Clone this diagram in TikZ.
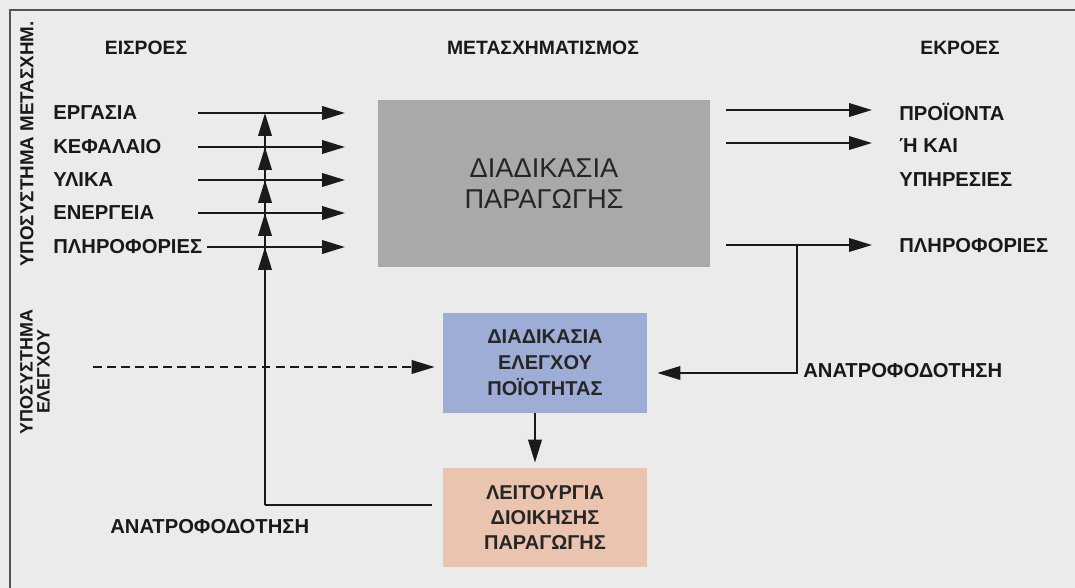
\documentclass[tikz,border=0pt]{standalone}
\usepackage{fontspec}
\setmainfont{Liberation Sans}
\newcommand\etich{\bfseries}
\usetikzlibrary{arrows.meta, calc, positioning}
\definecolor{fondo}{HTML}{EBEBEB}
\definecolor{lprod}{HTML}{A9A9A9}
\definecolor{lqual}{HTML}{9EADD5}
\definecolor{ldir}{HTML}{EBC4B0}
\definecolor{linea}{HTML}{1A1A1A}
\definecolor{cornice}{HTML}{555555}
\tikzset{
  % scatola di processo
  proc/.style={inner sep=0pt, align=center, text=black!85},
  box prod/.style={proc, fill=lprod, minimum width=6.64cm, minimum height=3.34cm,
    font=\fontsize{15.5}{17.5}\selectfont},
  box qual/.style={proc, fill=lqual, minimum width=4.08cm, minimum height=2cm,
    font=\etich\fontsize{11.4}{14.8}\selectfont},
  box dir/.style={proc, fill=ldir, minimum width=4.08cm, minimum height=1.98cm,
    font=\etich\fontsize{11.4}{14.2}\selectfont},
  % etichette
  lbl/.style={inner sep=0pt, text=black!90, font=\etich\fontsize{11.5}{13}\selectfont},
  head/.style={inner sep=0pt, text=black!90, font=\etich\fontsize{11}{9.7}\selectfont},
  % frecce
  line/.style={linea, line width=1.2pt},
  flow/.style={line, -{Triangle[length=0.46cm, width=0.27cm]}},
  flowd/.style={flow, dash pattern=on 5pt off 3pt},
}
\begin{document}
\begin{tikzpicture}[x=0.02cm, y=-0.02cm]
  \useasboundingbox (0,0) rectangle (1075,588);
  \fill[fondo] (0,0) rectangle (1075,588);
  \draw[cornice, line width=1.5pt] (10,588) -- (10,10) -- (1075,10);

  % titoli
  \node[head] (hin) at (146,48) {ΕΙΣΡΟΕΣ};
  \node[head] (htr) at (543,48) {ΜΕΤΑΣΧΗΜΑΤΙΣΜΟΣ};
  \node[head] (hout) at (960,48) {ΕΚΡΟΕΣ};
  \node[head, rotate=90, font=\etich\fontsize{10.7}{10}\selectfont] (subtr) at (27,144) {ΥΠΟΣΥΣΤΗΜΑ ΜΕΤΑΣΧΗΜ.};
  \node[head, rotate=90, align=center, font=\etich\fontsize{10.2}{9.6}\selectfont] (subctl) at (35,372) {ΥΠΟΣΥΣΤΗΜΑ\\ΕΛΕΓΧΟΥ};

  % scatole
  \node[box prod] (prod) at (544,183.5) {ΔΙΑΔΙΚΑΣΙΑ\\ΠΑΡΑΓΩΓΗΣ};
  \node[box qual] (qc) at (545,363) {ΔΙΑΔΙΚΑΣΙΑ\\ΕΛΕΓΧΟΥ\\ΠΟΪΟΤΗΤΑΣ};
  \node[box dir] (mgmt) at (545,517.5) {ΛΕΙΤΟΥΡΓΙΑ\\ΔΙΟΙΚΗΣΗΣ\\ΠΑΡΑΓΩΓΗΣ};

  % ingressi
  \foreach \nome/\y/\xa [count=\i] in {ΕΡΓΑΣΙΑ/113/198, ΚΕΦΑΛΑΙΟ/147/198, ΥΛΙΚΑ/180/198,
      ΕΝΕΡΓΕΙΑ/213/198, ΠΛΗΡΟΦΟΡΙΕΣ/247/207} {
    \node[lbl, anchor=west] (in\i) at (53,\y) {\nome};
    \coordinate (ia\i) at (\xa,\y);
    \coordinate (ib\i) at (345,\y);
    \draw[flow] (ia\i) -- (ib\i);
  }

  % uscite
  \node[lbl, anchor=west] (out1) at (899,112) {ΠΡΟΪΟΝΤΑ};
  \node[lbl, anchor=west] (out2) at (899,146) {Ή ΚΑΙ};
  \node[lbl, anchor=west] (out3) at (899,180) {ΥΠΗΡΕΣΙΕΣ};
  \node[lbl, anchor=west] (out4) at (899,246) {ΠΛΗΡΟΦΟΡΙΕΣ};
  \foreach \y [count=\i] in {110, 143, 245} {
    \coordinate (oa\i) at (726,\y);
    \coordinate (ob\i) at (872,\y);
    \draw[flow] (oa\i) -- (ob\i);
  }

  % retroazione a destra
  \coordinate (fr) at (797,245);
  \coordinate (frc) at (797,373);
  \draw[flow, shorten >=0.2cm] (fr) -- (frc) -- (qc.east |- frc);
  \node[lbl, anchor=west] (fbr) at (803,371) {ΑΝΑΤΡΟΦΟΔΟΤΗΣΗ};

  % controllo e direzione
  \coordinate (da) at (93,367);
  \draw[flowd, shorten >=0.16cm] (da) -- (da -| qc.west);
  \draw[flow, shorten >=0.1cm] ([xshift=-0.2cm]qc.south) -- ([xshift=-0.2cm]mgmt.north);

  % retroazione in basso
  \coordinate (fa) at (432,505);
  \coordinate (fc) at (265,505);
  \draw[line] (fa) -- (fc);
  \foreach \i in {1,...,5} \draw[flow] (fc) -- (fc |- ia\i);
  \node[lbl, anchor=west] (fbl) at (110,527) {ΑΝΑΤΡΟΦΟΔΟΤΗΣΗ};
\end{tikzpicture}
\end{document}
